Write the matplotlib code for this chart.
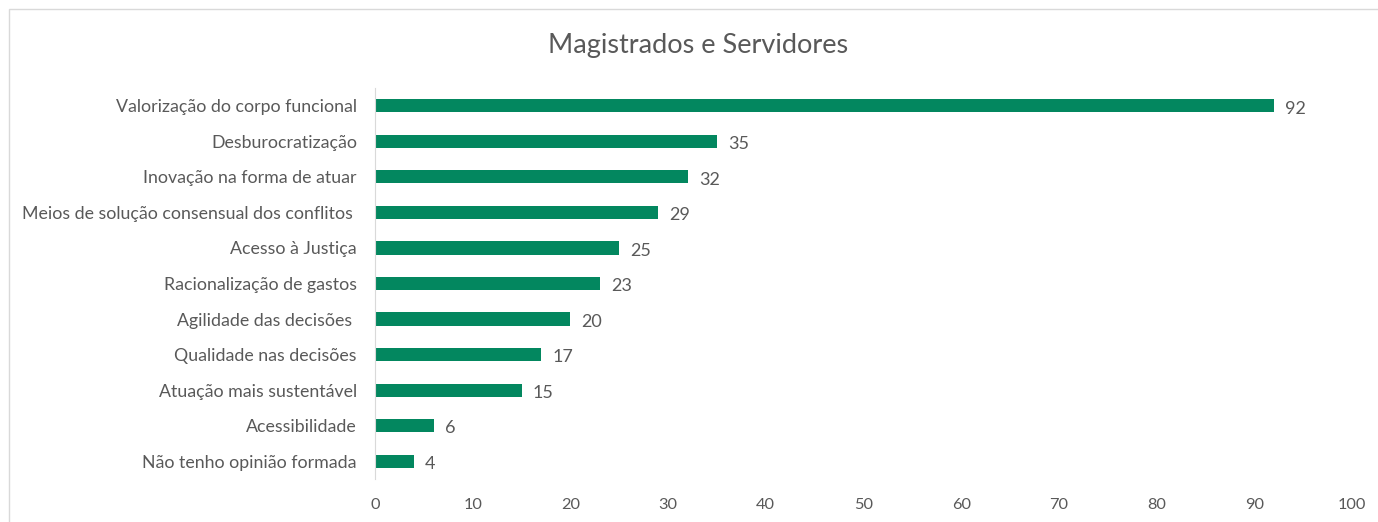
import matplotlib
matplotlib.use("Agg")
import matplotlib.pyplot as plt
from matplotlib.patches import Rectangle

categories = [
    "Valorização do corpo funcional",
    "Desburocratização",
    "Inovação na forma de atuar",
    "Meios de solução consensual dos conflitos ",
    "Acesso à Justiça",
    "Racionalização de gastos",
    "Agilidade das decisões ",
    "Qualidade nas decisões",
    "Atuação mais sustentável",
    "Acessibilidade",
    "Não tenho opinião formada",
]
values = [92, 35, 32, 29, 25, 23, 20, 17, 15, 6, 4]
xticks = [0, 10, 20, 30, 40, 50, 60, 70, 80, 90, 100]
title = "Magistrados e Servidores"

plt.rcParams['font.family'] = ['Lato', 'DejaVu Sans']
txt = '#595959'
bar_color = '#03875F'

fig = plt.figure(figsize=(13.78, 5.22), dpi=100)
ax = fig.add_axes([375/1378, 1-479/522, (1352-375)/1378, (479-88)/522])

ypos = list(range(len(categories)))
ax.barh(ypos, values, height=0.37, color=bar_color)
ax.set_ylim(len(categories) - 0.5, -0.5)
ax.set_xlim(0, 100)
ax.set_yticks(ypos)
ax.set_yticklabels(categories, fontsize=12.8, color=txt)
ax.set_xticks(xticks)
ax.set_xticklabels([str(t) for t in xticks], fontsize=11.8, color=txt)
ax.tick_params(axis='both', length=0)
ax.tick_params(axis='y', pad=13)
ax.tick_params(axis='x', pad=14)
for s in ['top', 'right', 'bottom']:
    ax.spines[s].set_visible(False)
ax.spines['left'].set_color('#d9d9d9')

for y, v in zip(ypos, values):
    ax.annotate(str(v), (v, y), xytext=(8, -2), textcoords='offset points',
                va='center', ha='left', fontsize=13, color=txt)

fig.text(698/1378, 1-46/522, title, ha='center', va='center', fontsize=19.5, color=txt)

fig.patches.append(Rectangle((9/1378, -0.1), 1.2, 1 - 9/522 + 0.1, transform=fig.transFigure,
                             fill=False, edgecolor='#d9d9d9', linewidth=1.0))

fig.savefig('out.png', dpi=100)
